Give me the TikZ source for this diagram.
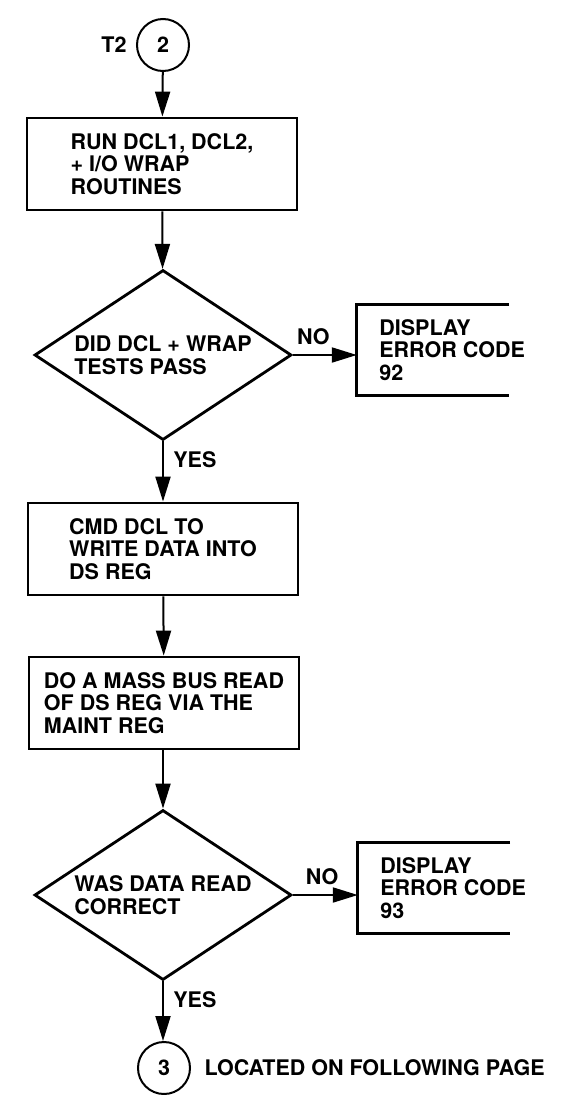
\documentclass[tikz,border=0pt]{standalone}
\usepackage{fontspec}
\setmainfont{TeX Gyre Heros}
\usetikzlibrary{arrows.meta,positioning,calc,shapes.geometric}

\tikzset{
  flowtext/.style={font=\bfseries\fontsize{21.5}{22.5}\selectfont},
  procbox/.style={draw,line width=2.8pt,minimum width=270pt,minimum height=92pt,
    align=left,inner sep=0pt,flowtext},
  decide/.style={draw,diamond,line width=2.8pt,aspect=1.5,minimum width=257pt,
    minimum height=170pt,align=left,inner sep=0pt,flowtext},
  errbox/.style={minimum width=152pt,minimum height=90pt,inner sep=0pt},
  onpage/.style={draw,circle,line width=2pt,minimum size=52pt,inner sep=0pt,flowtext},
  flow/.style={->,line width=2pt}
}

\begin{document}
\begin{tikzpicture}[x=1pt,y=-1pt,>={Triangle[length=25pt,width=15pt]}]
  \useasboundingbox (0,0) rectangle (562,1095);
  % entry connector
  \node[onpage] (c2) at (163,45) {2};
  \node[flowtext,left=6pt of c2] (t2) {T2};
  \node[procbox] (run) at (162,164) {RUN DCL1, DCL2,\\+ I/O WRAP\\ROUTINES};
  \node[decide] (dcl) at (163,355) {DID DCL + WRAP\\TESTS PASS};
  % error 92, box open on the right
  \node[errbox] (e92) at (433,350) {};
  \draw[line width=2.8pt] (e92.north east)--(e92.north west)--(e92.south west)--(e92.south east);
  \node[flowtext,align=left,anchor=west] (e92t) at ([xshift=19pt]e92.west) {DISPLAY\\ERROR CODE\\92};
  \node[procbox] (cmd) at (163,549) {CMD DCL TO\\WRITE DATA INTO\\DS REG};
  \node[procbox] (mass) at (164,703) {DO A MASS BUS READ\\OF DS REG VIA THE\\MAINT REG};
  \node[decide] (was) at (163,895) {WAS DATA READ\\CORRECT};
  % error 93, box open on the right
  \node[errbox] (e93) at (434,888) {};
  \draw[line width=2.8pt] (e93.north east)--(e93.north west)--(e93.south west)--(e93.south east);
  \node[flowtext,align=left,anchor=west] (e93t) at ([xshift=19pt]e93.west) {DISPLAY\\ERROR CODE\\93};
  % exit connector
  \node[onpage] (c3) at (164,1068) {3};
  \node[flowtext,right=10pt of c3] (loc) {LOCATED ON FOLLOWING PAGE};

  \draw[flow] (c2)--(run);
  \draw[flow] (run)--(dcl);
  \draw[flow] (dcl.east)--(e92.west |- dcl.east) node[flowtext,pos=0.32,above=6pt] (no1) {NO};
  \draw[flow] (dcl.south)--(cmd.north -| dcl.south) node[flowtext,pos=0.3,right=6pt] (yes1) {YES};
  \draw[flow] (cmd)--(mass);
  \draw[flow] (mass.south -| was.north)--(was.north);
  \draw[flow] (was.east)--(e93.west |- was.east) node[flowtext,pos=0.45,above=6pt] (no2) {NO};
  \draw[flow] (was.south)--(c3.north -| was.south) node[flowtext,pos=0.3,right=6pt] (yes2) {YES};
\end{tikzpicture}
\end{document}
